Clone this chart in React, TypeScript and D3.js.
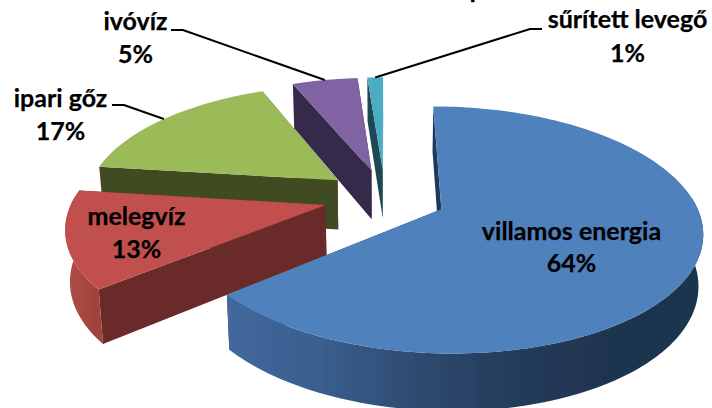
import React from "react";
import * as d3 from "d3";

const categories = ["villamos energia", "melegvíz", "ipari gőz", "ivóvíz", "sűrített levegő"];
const shares = [64, 13, 16.8, 5, 1.2];
const topColors = ["#4F81BD", "#C0504D", "#9BBB59", "#8064A2", "#4BACC6"];
const sideColors = ["#1F3B5C", "#6B2C2A", "#414B20", "#35294A", "#1F4A54"];
const rimStops = [
  ["#42699E", "#3A5E8E", "#2F4A70", "#243C5A", "#1F3450", "#1F3450"],
  ["#B24C48", "#AE4A46", "#AA4743", "#A6453F", "#A2433E", "#A0423D"],
  ["#5F7A2E"],
  ["#4A3A60"],
  ["#2A6575"],
];
const drawOrder = [3, 4, 2, 1, 0];

// label layout: [centre x, first baseline, second baseline]
const labelPos = [
  [571.5, 240, 272],
  [136.5, 225, 258],
  [60.5, 107, 140],
  [135.5, 30, 63],
  [627.5, 28, 62],
];
// leader elbows: label end, elbow (null for labels sitting on a slice)
const leaders: (number[][] | null)[] = [
  null,
  null,
  [[112, 105], [124, 105]],
  [[171, 30], [183, 30]],
  [[542, 29], [530, 29]],
];

const W = 712, H = 408;
const explode = 0.243, k = 0.165, depth = 50;
const sx = d3.scaleLinear().domain([-1, 1]).range([385 - 252, 385 + 252]);
const sy = d3.scaleLinear().domain([-1, 1]).range([197 - 116, 197 + 116]);
const cx = sx(0);

type P = [number, number];
function project(X: number, Y: number, lower: boolean): P {
  const s = 1 / (1 - k * Y);
  const px = cx + (sx(X) - cx) * s;
  const py = sy(0) + (sy(Y) - sy(0)) * s;
  if (!lower) return [px, py];
  return [cx + (px - cx) * 0.985, py + depth * Math.pow(s, 0.7)];
}

const arcs = d3.pie<number>().sort(null).startAngle(0).endAngle(2 * Math.PI)(shares);
const pathOf = d3.line<P>();

function sliceGeometry(i: number) {
  const a = arcs[i];
  const mid = (a.startAngle + a.endAngle) / 2;
  const ox = explode * Math.sin(mid), oy = -explode * Math.cos(mid);
  const pt = (ang: number, r: number, lower: boolean) =>
    project(ox + r * Math.sin(ang), oy - r * Math.cos(ang), lower);
  const n = Math.max(4, Math.ceil((a.endAngle - a.startAngle) * 40));
  const angs = d3.range(n + 1).map((j) => a.startAngle + ((a.endAngle - a.startAngle) * j) / n);
  const front = angs.filter((t) => Math.cos(t) < 0.1);
  const radial = (ang: number): P[] => [pt(ang, 0, false), pt(ang, 1, false), pt(ang, 1, true), pt(ang, 0, true)];
  const top = [pt(0, 0, false), ...angs.map((t) => pt(t, 1, false))];
  const rim = front.length < 2 ? null : [...front.map((t) => pt(t, 1, false)), ...front.slice().reverse().map((t) => pt(t, 1, true))];
  return { top, rim, startWall: radial(a.startAngle), endWall: radial(a.endAngle), pt, mid };
}

const textStyle: React.CSSProperties = {
  fontFamily: "Lato, 'Noto Sans', sans-serif",
  fontWeight: 700,
  fontSize: 25,
  fill: "#000",
  stroke: "#000",
  strokeWidth: 0.25,
  textAnchor: "middle",
};

export default function App() {
  return (
    <svg width={W} height={H} viewBox={`0 0 ${W} ${H}`} style={{ position: "absolute", left: 0, top: 0, background: "#fff" }}>
      <defs>
        {drawOrder.map((i) => (
          <linearGradient key={i} id={`rim${i}`} gradientUnits="objectBoundingBox" x1="0" x2="1" y1="0" y2="0">
            {rimStops[i].map((c, j) => (
              <stop key={j} offset={rimStops[i].length > 1 ? j / (rimStops[i].length - 1) : 0} stopColor={c} />
            ))}
          </linearGradient>
        ))}
        <filter id="soft" x="-5%" y="-5%" width="110%" height="110%">
          <feGaussianBlur stdDeviation="0.45" />
        </filter>
      </defs>
      <g filter="url(#soft)">
        {drawOrder.map((i) => {
          const g = sliceGeometry(i);
          return (
            <g key={i}>
              <path d={pathOf(g.endWall)! + "Z"} fill={sideColors[i]} />
              <path d={pathOf(g.startWall)! + "Z"} fill={sideColors[i]} />
              {g.rim && <path d={pathOf(g.rim)! + "Z"} fill={`url(#rim${i})`} />}
              <path d={pathOf(g.top)! + "Z"} fill={topColors[i]} />
            </g>
          );
        })}
        {categories.map((_, i) => {
          const l = leaders[i];
          if (!l) return null;
          const g = sliceGeometry(i);
          const tip = g.pt(g.mid, 1, false);
          return <path key={i} d={pathOf([l[0] as P, l[1] as P, tip])!} fill="none" stroke="#000" strokeWidth={2} />;
        })}
      </g>
      {categories.map((c, i) => (
        <g key={c} style={textStyle}>
          <text x={labelPos[i][0]} y={labelPos[i][1]}>{c}</text>
          <text x={labelPos[i][0]} y={labelPos[i][2]}>{Math.round(shares[i])}%</text>
        </g>
      ))}
      <text x={477} y={-2} style={{ ...textStyle, fontSize: 26 }}>p</text>
    </svg>
  );
}
